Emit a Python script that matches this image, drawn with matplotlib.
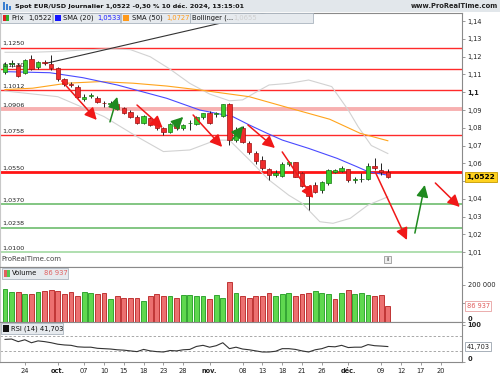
import matplotlib
matplotlib.use('Agg')
import matplotlib.pyplot as plt
from matplotlib.patches import Rectangle

W, H = 500, 375

# daily candles, 19 sept. -> 10 déc. 2024 (trading day index)
opens = [1.1115, 1.1158, 1.1154, 1.1109, 1.1186, 1.1141, 1.1172, 1.1160, 1.1135, 1.1073,
         1.1047, 1.1032, 1.0960, 1.0980, 1.0970, 1.0940, 1.0936, 1.0934, 1.0910, 1.0891,
         1.0859, 1.0829, 1.0853, 1.0816, 1.0797, 1.0778, 1.0821, 1.0797, 1.0826, 1.0820,
         1.0859, 1.0881, 1.0879, 1.0868, 1.0934, 1.0731, 1.0797, 1.0714, 1.0660, 1.0618,
         1.0566, 1.0534, 1.0528, 1.0596, 1.0605, 1.0547, 1.0472, 1.0478, 1.0450, 1.0491,
         1.0553, 1.0558, 1.0566, 1.0508, 1.0510, 1.0512, 1.0587, 1.0562, 1.0553]
highs = [1.1172, 1.1180, 1.1165, 1.1190, 1.1212, 1.1178, 1.1182, 1.1210, 1.1140, 1.1083,
         1.1055, 1.1040, 1.0990, 1.0995, 1.0978, 1.0950, 1.0950, 1.0940, 1.0915, 1.0898,
         1.0870, 1.0870, 1.0860, 1.0825, 1.0803, 1.0825, 1.0830, 1.0820, 1.0845, 1.0865,
         1.0885, 1.0893, 1.0890, 1.0936, 1.0937, 1.0805, 1.0810, 1.0725, 1.0670, 1.0640,
         1.0575, 1.0560, 1.0605, 1.0612, 1.0610, 1.0550, 1.0480, 1.0495, 1.0500, 1.0570,
         1.0570, 1.0582, 1.0570, 1.0525, 1.0545, 1.0600, 1.0628, 1.0600, 1.0570]
lows = [1.1100, 1.1140, 1.1085, 1.1100, 1.1125, 1.1130, 1.1155, 1.1128, 1.1065, 1.1035,
        1.1032, 1.0965, 1.0950, 1.0965, 1.0940, 1.0915, 1.0925, 1.0900, 1.0880, 1.0855,
        1.0820, 1.0820, 1.0810, 1.0790, 1.0759, 1.0770, 1.0790, 1.0790, 1.0790, 1.0815,
        1.0850, 1.0822, 1.0860, 1.0860, 1.0703, 1.0720, 1.0715, 1.0650, 1.0595, 1.0560,
        1.0505, 1.0520, 1.0520, 1.0585, 1.0520, 1.0465, 1.0337, 1.0430, 1.0430, 1.0480,
        1.0545, 1.0550, 1.0495, 1.0490, 1.0495, 1.0505, 1.0560, 1.0535, 1.0515]
closes = [1.1159, 1.1162, 1.1092, 1.1182, 1.1131, 1.1172, 1.1163, 1.1135, 1.1073, 1.1047,
          1.1040, 1.0975, 1.0975, 1.0985, 1.0944, 1.0937, 1.0939, 1.0906, 1.0885, 1.0863,
          1.0829, 1.0866, 1.0816, 1.0797, 1.0778, 1.0821, 1.0797, 1.0816, 1.0829, 1.0859,
          1.0881, 1.0829, 1.0882, 1.0934, 1.0731, 1.0788, 1.0722, 1.0665, 1.0615, 1.0572,
          1.0534, 1.0547, 1.0596, 1.0609, 1.0525, 1.0472, 1.0416, 1.0440, 1.0496, 1.0563,
          1.0562, 1.0575, 1.0506, 1.0511, 1.0514, 1.0587, 1.0572, 1.0553, 1.0522]
volumes = [178, 160, 160, 150, 150, 160, 169, 172, 167, 150, 160, 143, 160, 154, 150,
           154, 123, 138, 132, 132, 132, 116, 141, 150, 138, 138, 130, 148, 148, 138,
           138, 123, 148, 132, 217, 154, 141, 130, 141, 141, 158, 141, 151, 158, 141,
           150, 158, 168, 158, 150, 123, 158, 171, 150, 154, 148, 138, 148, 86.937]  # milliers
rsi = [61, 62, 55, 60, 52, 57, 55, 52, 48, 46, 45, 41, 40, 40, 37, 36, 35, 33, 32, 30,
       28, 34, 30, 28, 27, 31, 30, 33, 34, 42, 45, 40, 44, 52, 36, 40, 35, 33, 30, 27,
       27, 29, 36, 36, 34, 30, 27, 33, 36, 42, 41, 45, 39, 40, 40, 47, 44, 43, 41.7]

# indicator lines (index, value)
sma20_x = [0, 6.8, 11.8, 17, 24.5, 29.5, 34.5, 37, 39.7, 42, 46, 50.3, 53.3, 55, 58]
sma20_y = [1.1116, 1.1110, 1.1082, 1.1041, 1.0966, 1.0900, 1.0863, 1.0816, 1.0769,
           1.0731, 1.0684, 1.0628, 1.0581, 1.0553, 1.0533]
sma50_x = [0, 4.2, 9.4, 14.4, 19.4, 24.5, 29.5, 37, 43.2, 49.2, 53.8, 58]
sma50_y = [1.1015, 1.1023, 1.1051, 1.1060, 1.1051, 1.1035, 1.1013, 1.0975, 1.0910,
           1.0848, 1.0769, 1.0727]
boll_up_x = [0, 4, 8, 12, 16, 19, 22, 25, 28, 31, 34, 36, 38, 40, 43, 46, 49.5, 52, 53.5, 55.5, 58]
boll_up_y = [1.1225, 1.1225, 1.1230, 1.1238, 1.1245, 1.1240, 1.1200, 1.1130, 1.1050, 1.0990,
             1.0952, 1.0957, 1.1000, 1.1041, 1.1050, 1.1069, 1.1032, 1.0900, 1.0806, 1.0700, 1.0655]
boll_lo_x = [0, 8, 15, 20, 24, 28, 30, 32, 34, 37, 40, 43, 45, 47.7, 49.7, 52.3, 55, 58]
boll_lo_y = [1.1007, 1.0975, 1.0863, 1.0750, 1.0666, 1.0675, 1.0703, 1.0731, 1.0730,
             1.0620, 1.0506, 1.0420, 1.0375, 1.0271, 1.0262, 1.0290, 1.0365, 1.0411]

levels = [1.1250, 1.1130, 1.1012, 1.0906, 1.0758, 1.0550, 1.0370, 1.0238, 1.0100]
level_labels = ['1,1250', '1,1130', '1,1012', '1,0906', '1,0758', '1,0550', '1,0370', '1,0238', '1,0100']
trend = [(6, 1.1161), (45, 1.1495)]
# hand drawn arrows: (x0, y0, x1, y1)
red_arrows = [(8.6, 1.1064, 13.9, 1.0844), (20.0, 1.0928, 23.9, 1.0799),
              (28.5, 1.0872, 32.9, 1.0692), (36.8, 1.0816, 40.9, 1.0686),
              (42.0, 1.0664, 46.7, 1.0404), (56.1, 1.0551, 60.9, 1.0168),
              (65.2, 1.0489, 68.9, 1.0354)]
green_arrows = [(15.9, 1.0833, 17.0, 1.0974), (25.6, 1.0810, 27.0, 1.0861),
                (34.4, 1.0731, 36.1, 1.0810), (62.1, 1.0207, 63.6, 1.0478)]

price_ticks = [1.01, 1.02, 1.03, 1.04, 1.05, 1.06, 1.07, 1.08, 1.09, 1.10, 1.11, 1.12, 1.13, 1.14]
date_pos = [3, 8, 12, 15, 18, 21, 24, 27, 31, 36, 39, 42, 45, 48, 52, 57, 60, 63, 66]
date_lab = ['24', 'oct.', '07', '10', '15', '18', '23', '28', 'nov.', '08', '13', '18',
            '21', '26', 'déc.', '09', '12', '17', '20']

RED, RED_EDGE = '#ee2c2c', '#a01010'
GREEN, GREEN_EDGE = '#3ccc2c', '#157a15'
AXC = '#8a8a8a'
XLIM = (-0.76, 69.24)

fig = plt.figure(figsize=(5, 3.75), dpi=100)


def px_axes(x0, y0, x1, y1):
    return fig.add_axes([x0 / W, 1 - y1 / H, (x1 - x0) / W, (y1 - y0) / H])


def px_box(x0, y0, x1, y1, fc, ec='none', lw=0.6, z=5):
    fig.add_artist(Rectangle((x0 / W, 1 - y1 / H), (x1 - x0) / W, (y1 - y0) / H,
                             transform=fig.transFigure, fc=fc, ec=ec, lw=lw, zorder=z))


def px_text(x, y, s, **kw):
    kw.setdefault('va', 'center')
    kw.setdefault('zorder', 10)
    fig.text(x / W, 1 - y / H, s, **kw)


def style_panel(a):
    a.set_xlim(*XLIM)
    a.set_facecolor('white')
    for s in a.spines.values():
        s.set_color(AXC)
        s.set_linewidth(0.8)
    a.spines['left'].set_color('#c8c8c8')
    a.set_xticks([])
    a.yaxis.tick_right()
    a.tick_params(axis='y', direction='out', length=2.5, width=0.6, color=AXC,
                  labelsize=4.8, pad=1.5, labelcolor='#222222')


n = len(closes)
idx = list(range(n))

# ---------------- price panel ----------------
ax = px_axes(0, 12.7, 462, 267)
style_panel(ax)
ax.set_ylim(1.0016, 1.1448)
ax.set_yticks(price_ticks)
# the 1,05 label sits under the yellow last-price box
ax.set_yticklabels(['' if t == 1.05 else ('%.2f' % t).rstrip('0').replace('.', ',') for t in price_ticks])
for lab in ax.get_yticklabels():
    if lab.get_text() == '1,1':
        lab.set_fontweight('bold')

lcol = ['#ff2a2a', '#ff2a2a', '#ff2a2a', '#f7b0b0', '#ff2a2a', '#ff1414', '#78c278', '#78c278', '#a9dca9']
lwid = [1.0, 1.0, 1.0, 2.8, 1.0, 2.0, 1.3, 1.3, 1.3]
for lv, lb, c, w in zip(levels, level_labels, lcol, lwid):
    ax.axhline(lv, color=c, lw=w, zorder=2)
    ax.annotate(lb, xy=(0, lv), xycoords=ax.get_yaxis_transform(), xytext=(1.5, 1.2),
                textcoords='offset points', fontsize=4.6, color='#222222', va='bottom', zorder=8)

ax.plot(boll_up_x, boll_up_y, color='#d2d2d2', lw=0.8, zorder=3)
ax.plot(boll_lo_x, boll_lo_y, color='#d2d2d2', lw=0.8, zorder=3)
ax.plot(sma50_x, sma50_y, color='#ffa41c', lw=0.8, zorder=3)
ax.plot(sma20_x, sma20_y, color='#4a4aff', lw=0.8, zorder=3)
ax.plot([trend[0][0], trend[1][0]], [trend[0][1], trend[1][1]], color='#333333', lw=0.8, zorder=3)

for i in idx:
    o, h, l, c = opens[i], highs[i], lows[i], closes[i]
    up = c >= o
    ax.vlines(i, l, h, color='#222222', lw=0.7, zorder=4)
    body = max(abs(c - o), 0.00022)
    ax.bar(i, body, bottom=min(o, c), width=0.68, color=GREEN if up else RED,
           edgecolor=GREEN_EDGE if up else RED_EDGE, lw=0.5, zorder=5)

for x0, y0, x1, y1 in red_arrows:
    ax.annotate('', xy=(x1, y1), xytext=(x0, y0),
                arrowprops=dict(arrowstyle='-|>,head_length=0.9,head_width=0.45', color='#f01818',
                                lw=1.1, shrinkA=0, shrinkB=0, mutation_scale=8), zorder=7)
for x0, y0, x1, y1 in green_arrows:
    ax.annotate('', xy=(x1, y1), xytext=(x0, y0),
                arrowprops=dict(arrowstyle='-|>,head_length=0.9,head_width=0.45', color='#1f8a1f',
                                lw=1.1, shrinkA=0, shrinkB=0, mutation_scale=8), zorder=7)

ax.text(1.01, closes[-1], '1,0522', transform=ax.get_yaxis_transform(), fontsize=5.4,
        fontweight='bold', va='center', ha='left', clip_on=False, zorder=12,
        bbox=dict(boxstyle='square,pad=0.25', fc='#ffd21f', ec='#c59a00', lw=0.6))
ax.text(0.004, 0.018, 'ProRealTime.com', transform=ax.transAxes, fontsize=5,
        color='#444444', va='bottom', ha='left', zorder=8)

# ---------------- volume panel ----------------
axv = px_axes(0, 267, 462, 322)
style_panel(axv)
axv.set_ylim(0, 297)
axv.set_yticks([0, 100, 200])
axv.set_yticklabels([])
vup = [closes[0] >= opens[0]] + [closes[i] >= closes[i - 1] for i in idx[1:]]
axv.bar(idx, volumes, width=0.74, color=['#5fd84f' if u else '#ec7070' for u in vup],
        edgecolor=['#1f9a1f' if u else '#b82020' for u in vup], lw=0.6, zorder=3)
axv.text(1.012, 200, '200 000', transform=axv.get_yaxis_transform(), fontsize=4.8,
         va='center', ha='left', color='#222222', clip_on=False)
axv.text(1.012, 0, '0', transform=axv.get_yaxis_transform(), fontsize=4.8, fontweight='bold',
         va='bottom', ha='left', color='#222222', clip_on=False)
axv.text(1.01, volumes[-1], '86 937', transform=axv.get_yaxis_transform(), fontsize=4.8,
         va='center', ha='left', color='#e05a5a', clip_on=False, zorder=12,
         bbox=dict(boxstyle='square,pad=0.25', fc='white', ec='#e8a0a0', lw=0.6))

# ---------------- RSI panel ----------------
axr = px_axes(0, 322, 462, 362)
style_panel(axr)
axr.set_ylim(0, 108)
axr.set_yticks([0, 100])
axr.set_yticklabels([])
axr.axhline(70, color='#a8a8a8', lw=0.7, ls=(0, (2.5, 2)))
axr.axhline(30, color='#a8a8a8', lw=0.7, ls=(0, (2.5, 2)))
axr.plot(idx, rsi, color='#333333', lw=0.8)
axr.text(1.012, 100, '100', transform=axr.get_yaxis_transform(), fontsize=4.8, fontweight='bold',
         va='center', ha='left', color='#222222', clip_on=False)
axr.text(1.012, 0, '0', transform=axr.get_yaxis_transform(), fontsize=4.8, fontweight='bold',
         va='bottom', ha='left', color='#222222', clip_on=False)
axr.text(1.01, rsi[-1], '41,703', transform=axr.get_yaxis_transform(), fontsize=4.8,
         va='center', ha='left', color='#222222', clip_on=False, zorder=12,
         bbox=dict(boxstyle='square,pad=0.25', fc='white', ec='#9aa4ae', lw=0.6))
axr.set_xticks(date_pos)
axr.set_xticklabels(date_lab)
axr.tick_params(axis='x', direction='out', length=2.5, width=0.6, color=AXC,
                labelsize=4.8, pad=1.5, labelcolor='#222222')
for lab in axr.get_xticklabels():
    if lab.get_text().endswith('.'):
        lab.set_fontweight('bold')

# ---------------- header / legends ----------------
px_box(0, 0, 500, 12.2, '#e2e7eb', z=1)
px_box(2.5, 1.5, 4.5, 10, '#3a7fd0')
px_box(5.5, 4, 7.5, 10, '#3a7fd0')
px_box(8.5, 6, 10.5, 10, '#3a7fd0')
px_text(15, 6, 'Spot EUR/USD Journalier 1,0522 -0,30 % 10 déc. 2024, 13:15:01',
        fontsize=4.6, fontweight='bold', color='#111111')
px_text(498, 6, 'www.ProRealTime.com', fontsize=4.9, fontweight='bold', color='#222222', ha='right')

px_box(1, 13, 52, 23, '#e6eaee', '#aab4be')
px_box(3, 15, 6, 21, '#e02020')
px_box(6, 15, 9, 21, '#30b030')
px_text(11.5, 18, 'Prix', fontsize=4.9, color='#111111')
px_text(28, 18, '1,0522', fontsize=4.9, color='#111111')
px_box(53, 13, 120, 23, '#e6eaee', '#aab4be')
px_box(55, 15, 61, 21, '#1414ff')
px_text(63, 18, 'SMA (20)', fontsize=4.9, color='#111111')
px_text(97, 18, '1,0533', fontsize=4.9, color='#2020ff')
px_box(121, 13, 190, 23, '#e6eaee', '#aab4be')
px_box(123, 15, 129, 21, '#ff9a1a')
px_text(132, 18, 'SMA (50)', fontsize=4.9, color='#111111')
px_text(166, 18, '1,0727', fontsize=4.9, color='#ff9a1a')
px_box(190, 13, 313, 23, '#e6eaee', '#aab4be')
px_text(192, 18, 'Bollinger (...', fontsize=4.9, color='#111111')
px_text(233, 18, '1,0655', fontsize=4.9, color='#d0d0d0')

px_box(2, 268, 68, 278.5, '#e6eaee', '#aab4be')
px_box(4, 270, 7, 276.5, '#e06060')
px_box(7, 270, 10, 276.5, '#50c850')
px_text(12, 273.3, 'Volume', fontsize=4.9, color='#111111')
px_text(44, 273.3, '86 937', fontsize=4.9, color='#e06060')

px_box(0.5, 323, 63, 333.5, '#e6eaee', '#aab4be')
px_box(3, 325, 9, 331.5, '#111111')
px_text(11, 328.3, 'RSI (14) 41,703', fontsize=4.9, color='#111111')

px_box(384, 256, 391, 263, '#eeeeee', '#9a9a9a')
px_text(387.5, 259.5, 'i', fontsize=4.5, color='#555555', ha='center', fontweight='bold')

fig.savefig('out.png', dpi=100)
